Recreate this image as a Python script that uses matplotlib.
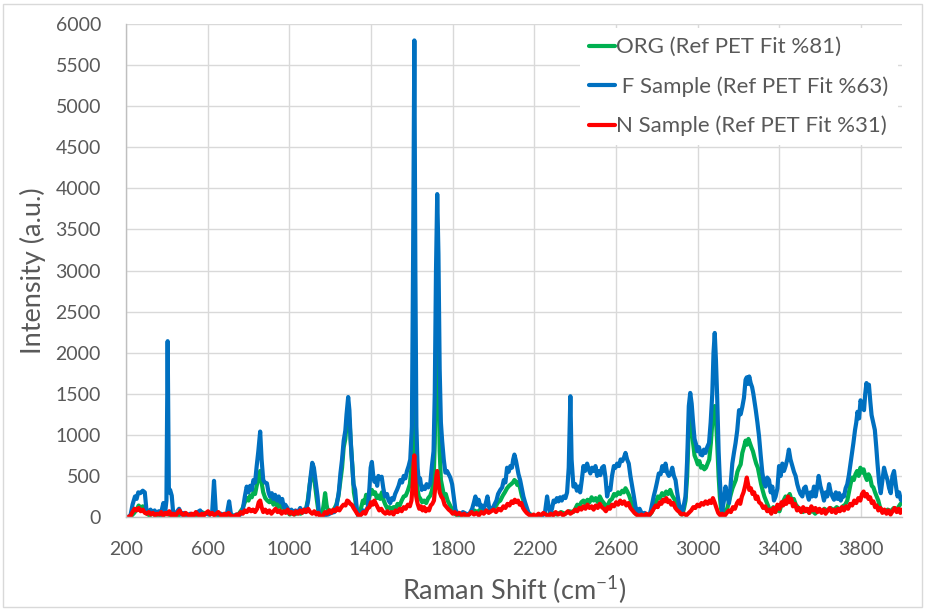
import matplotlib
matplotlib.use("Agg")
import matplotlib.pyplot as plt
from matplotlib.patches import Rectangle

plt.rcParams['font.family'] = ['Lato', 'DejaVu Sans']
plt.rcParams['mathtext.fontset'] = 'custom'
plt.rcParams['mathtext.rm'] = 'Lato'
plt.rcParams['mathtext.default'] = 'regular'

# Raman spectra: (shift cm-1, intensity a.u.)
org_points = [
    (210, 0), (225, 10), (240, 50), (252, 90), (262, 140), (272, 110), (282, 130), (292, 80), (302, 40),
    (315, 20), (330, 40), (345, 20), (360, 30), (375, 10), (390, 30), (404, 60), (415, 20), (430, 30),
    (450, 10), (470, 40), (490, 20), (510, 10), (530, 30), (550, 20), (570, 60), (590, 40), (610, 30),
    (630, 60), (650, 20), (670, 30), (690, 10), (710, 40), (730, 10), (750, 30), (770, 100), (782, 180),
    (791, 230), (800, 200), (808, 260), (816, 240), (824, 300), (832, 280), (840, 380), (848, 470),
    (857, 560), (864, 420), (872, 300), (882, 230), (892, 200), (902, 180), (912, 220), (922, 150),
    (932, 190), (942, 120), (952, 160), (962, 110), (972, 130), (982, 80), (992, 60), (1002, 30),
    (1012, 50), (1025, 30), (1040, 50), (1055, 40), (1068, 60), (1080, 80), (1090, 200), (1100, 400),
    (1110, 560), (1118, 520), (1126, 380), (1135, 200), (1143, 60), (1152, 0), (1160, 30), (1168, 150),
    (1175, 290), (1182, 150), (1190, 50), (1200, 80), (1210, 60), (1220, 100), (1230, 150), (1240, 250),
    (1250, 450), (1258, 600), (1266, 850), (1274, 950), (1281, 1150), (1288, 1300), (1295, 1150),
    (1302, 850), (1309, 600), (1316, 300), (1323, 200), (1332, 50), (1340, 0), (1350, 100), (1360, 200),
    (1368, 170), (1376, 270), (1384, 180), (1392, 250), (1404, 330), (1412, 280), (1420, 300),
    (1428, 230), (1436, 260), (1444, 220), (1453, 300), (1462, 200), (1470, 150), (1480, 100),
    (1490, 120), (1500, 90), (1510, 120), (1520, 100), (1530, 160), (1540, 140), (1550, 200),
    (1560, 250), (1570, 260), (1580, 320), (1590, 400), (1598, 600), (1604, 1000), (1609, 1600),
    (1612, 1800), (1616, 1300), (1620, 700), (1626, 350), (1634, 250), (1642, 220), (1650, 180),
    (1660, 200), (1670, 170), (1680, 230), (1690, 260), (1698, 320), (1706, 420), (1712, 900),
    (1718, 2000), (1724, 2800), (1730, 1900), (1736, 800), (1742, 450), (1750, 350), (1758, 250),
    (1766, 280), (1775, 200), (1785, 150), (1795, 100), (1805, 60), (1815, 30), (1830, 10), (1850, 30),
    (1870, 20), (1890, 50), (1905, 80), (1920, 60), (1935, 90), (1950, 50), (1965, 80), (1980, 60),
    (1995, 100), (2010, 130), (2022, 180), (2033, 200), (2045, 260), (2055, 300), (2066, 350),
    (2076, 380), (2086, 400), (2095, 420), (2102, 450), (2110, 430), (2116, 390), (2122, 420),
    (2130, 350), (2138, 260), (2146, 200), (2155, 120), (2165, 70), (2175, 40), (2190, 20), (2210, 0),
    (2230, 20), (2250, 40), (2270, 20), (2290, 50), (2310, 30), (2330, 60), (2350, 40), (2370, 70),
    (2390, 60), (2400, 100), (2410, 150), (2420, 130), (2430, 180), (2440, 200), (2450, 160),
    (2460, 210), (2470, 180), (2480, 240), (2490, 200), (2500, 230), (2510, 180), (2520, 250),
    (2530, 200), (2540, 170), (2550, 120), (2560, 150), (2570, 200), (2580, 220), (2590, 280),
    (2600, 260), (2610, 300), (2620, 280), (2630, 320), (2638, 300), (2646, 350), (2655, 310),
    (2664, 260), (2672, 200), (2680, 120), (2690, 60), (2700, 30), (2720, 10), (2740, 30), (2760, 10),
    (2775, 60), (2785, 120), (2795, 180), (2805, 250), (2815, 230), (2825, 290), (2835, 260),
    (2845, 310), (2855, 280), (2865, 330), (2875, 260), (2885, 220), (2895, 150), (2905, 90),
    (2915, 40), (2924, 30), (2932, 100), (2940, 200), (2948, 500), (2956, 1100), (2963, 1280),
    (2970, 1100), (2977, 900), (2984, 750), (2992, 700), (3000, 640), (3008, 680), (3016, 600),
    (3024, 620), (3032, 580), (3040, 600), (3048, 650), (3056, 700), (3064, 900), (3071, 1150),
    (3077, 1300), (3083, 1350), (3089, 1200), (3095, 900), (3102, 500), (3108, 250), (3114, 100),
    (3122, 40), (3130, 80), (3138, 60), (3146, 120), (3154, 200), (3162, 280), (3170, 350), (3178, 400),
    (3186, 450), (3194, 550), (3202, 600), (3210, 640), (3218, 780), (3226, 850), (3234, 930),
    (3241, 880), (3248, 950), (3255, 900), (3262, 850), (3270, 800), (3278, 720), (3286, 650),
    (3294, 600), (3302, 500), (3310, 400), (3318, 320), (3326, 250), (3334, 200), (3342, 150),
    (3350, 100), (3360, 80), (3370, 120), (3380, 60), (3390, 100), (3400, 70), (3410, 150), (3420, 200),
    (3430, 250), (3440, 230), (3450, 280), (3460, 200), (3470, 220), (3480, 150), (3490, 120),
    (3500, 80), (3515, 60), (3530, 100), (3545, 50), (3560, 80), (3575, 40), (3590, 90), (3605, 60),
    (3620, 100), (3635, 70), (3650, 110), (3665, 80), (3680, 120), (3695, 90), (3710, 130), (3722, 150),
    (3732, 200), (3740, 300), (3748, 400), (3756, 480), (3764, 450), (3772, 520), (3780, 560),
    (3788, 500), (3796, 600), (3804, 540), (3812, 580), (3820, 500), (3828, 450), (3836, 520),
    (3844, 480), (3852, 380), (3860, 360), (3868, 300), (3876, 250), (3884, 200), (3892, 120),
    (3900, 90), (3915, 60), (3930, 90), (3945, 70), (3960, 110), (3975, 90), (3990, 150), (4000, 180),
]

f_points = [
    (210, 0), (222, 20), (232, 150), (244, 250), (252, 220), (260, 300), (270, 290), (282, 320),
    (292, 300), (300, 90), (310, 60), (320, 90), (330, 50), (340, 80), (350, 40), (360, 70), (370, 30),
    (383, 170), (392, 60), (398, 200), (404, 2140), (410, 300), (416, 330), (424, 260), (432, 20),
    (445, 50), (460, 100), (472, 30), (485, 50), (500, 20), (515, 40), (530, 20), (545, 50), (563, 80),
    (575, 30), (595, 40), (610, 30), (622, 60), (631, 440), (640, 60), (650, 30), (665, 40), (680, 20),
    (695, 50), (705, 190), (714, 30), (722, 0), (740, 30), (755, 20), (770, 60), (782, 250), (791, 370),
    (800, 300), (808, 380), (816, 330), (824, 450), (832, 420), (840, 620), (848, 800), (857, 1040),
    (864, 700), (872, 450), (880, 420), (890, 410), (898, 300), (905, 250), (914, 290), (922, 220),
    (930, 270), (940, 200), (948, 250), (956, 180), (965, 220), (972, 120), (980, 150), (990, 110),
    (1000, 60), (1010, 90), (1020, 40), (1030, 80), (1040, 50), (1053, 110), (1062, 60), (1072, 90),
    (1080, 60), (1092, 200), (1102, 450), (1112, 660), (1120, 600), (1130, 400), (1138, 250),
    (1145, 50), (1152, 0), (1170, 20), (1190, 30), (1205, 50), (1220, 60), (1232, 150), (1242, 300),
    (1250, 530), (1258, 700), (1266, 930), (1274, 1050), (1280, 1250), (1288, 1460), (1294, 1300),
    (1300, 950), (1306, 700), (1314, 400), (1322, 330), (1330, 100), (1340, 0), (1352, 40), (1362, 80),
    (1372, 60), (1384, 120), (1392, 350), (1398, 600), (1404, 670), (1410, 520), (1416, 430),
    (1422, 470), (1430, 380), (1436, 500), (1444, 470), (1452, 490), (1460, 350), (1468, 250),
    (1478, 280), (1486, 200), (1494, 170), (1502, 230), (1510, 210), (1518, 280), (1527, 330),
    (1535, 380), (1543, 450), (1552, 420), (1560, 500), (1568, 470), (1576, 560), (1584, 620),
    (1592, 700), (1600, 1100), (1606, 3200), (1612, 5800), (1617, 3000), (1622, 1100), (1628, 600),
    (1634, 420), (1640, 470), (1648, 330), (1656, 370), (1664, 340), (1672, 400), (1680, 360),
    (1690, 410), (1698, 620), (1706, 800), (1712, 1500), (1718, 3000), (1724, 3930), (1730, 3200),
    (1736, 1800), (1742, 1150), (1748, 930), (1756, 700), (1764, 540), (1772, 560), (1780, 520),
    (1788, 480), (1797, 400), (1805, 250), (1813, 90), (1822, 50), (1835, 30), (1850, 60), (1865, 40),
    (1880, 30), (1895, 100), (1904, 180), (1911, 250), (1919, 150), (1927, 210), (1936, 120),
    (1944, 140), (1951, 100), (1960, 150), (1970, 250), (1978, 120), (1986, 80), (1996, 110),
    (2006, 160), (2014, 200), (2022, 280), (2033, 330), (2042, 360), (2050, 450), (2058, 420),
    (2066, 600), (2074, 550), (2082, 620), (2090, 600), (2096, 700), (2102, 760), (2110, 680),
    (2116, 600), (2122, 520), (2130, 450), (2138, 350), (2146, 250), (2154, 180), (2162, 120),
    (2171, 50), (2180, 20), (2195, 0), (2210, 10), (2225, 0), (2240, 20), (2252, 60), (2262, 250),
    (2270, 120), (2278, 50), (2286, 100), (2294, 200), (2302, 180), (2310, 230), (2318, 190),
    (2326, 240), (2334, 200), (2342, 250), (2352, 230), (2360, 300), (2368, 600), (2376, 1470),
    (2382, 700), (2391, 370), (2400, 400), (2408, 320), (2416, 370), (2424, 300), (2432, 450),
    (2440, 620), (2448, 560), (2458, 650), (2466, 580), (2474, 530), (2482, 600), (2490, 560),
    (2499, 620), (2507, 500), (2515, 560), (2523, 510), (2531, 600), (2540, 620), (2548, 480),
    (2556, 250), (2564, 350), (2572, 330), (2580, 500), (2589, 620), (2597, 600), (2605, 650),
    (2614, 620), (2622, 700), (2630, 680), (2638, 720), (2646, 780), (2654, 700), (2662, 650),
    (2670, 500), (2679, 370), (2687, 250), (2695, 125), (2705, 60), (2715, 100), (2728, 30),
    (2740, 50), (2750, 20), (2760, 0), (2770, 80), (2778, 180), (2784, 250), (2792, 330), (2800, 420),
    (2809, 530), (2818, 520), (2826, 620), (2834, 560), (2842, 650), (2850, 540), (2858, 500),
    (2866, 520), (2875, 600), (2883, 500), (2891, 450), (2899, 300), (2907, 170), (2915, 90),
    (2924, 50), (2932, 150), (2940, 250), (2948, 700), (2956, 1350), (2963, 1510), (2970, 1380),
    (2977, 1150), (2984, 950), (2992, 880), (2998, 800), (3006, 850), (3014, 760), (3022, 750),
    (3030, 820), (3038, 780), (3046, 850), (3055, 900), (3063, 1150), (3071, 1500), (3077, 2000),
    (3083, 2240), (3089, 1900), (3095, 1450), (3102, 800), (3108, 450), (3114, 200), (3120, 80),
    (3128, 200), (3136, 370), (3144, 250), (3153, 170), (3161, 400), (3169, 650), (3177, 780),
    (3185, 900), (3193, 1050), (3202, 1300), (3210, 1250), (3218, 1340), (3226, 1450), (3234, 1670),
    (3240, 1700), (3246, 1620), (3252, 1710), (3259, 1630), (3266, 1580), (3272, 1500), (3278, 1400),
    (3284, 1300), (3292, 1150), (3300, 980), (3308, 750), (3316, 540), (3324, 420), (3332, 370),
    (3340, 480), (3349, 450), (3357, 300), (3365, 370), (3373, 200), (3381, 250), (3390, 350),
    (3398, 620), (3406, 500), (3414, 650), (3422, 560), (3430, 620), (3438, 700), (3446, 820),
    (3454, 700), (3463, 620), (3471, 550), (3479, 500), (3487, 400), (3495, 330), (3503, 280),
    (3512, 250), (3520, 350), (3528, 370), (3536, 280), (3544, 210), (3552, 300), (3560, 250),
    (3569, 370), (3577, 250), (3584, 350), (3592, 500), (3600, 380), (3610, 290), (3618, 200),
    (3626, 300), (3634, 250), (3643, 400), (3651, 300), (3659, 250), (3667, 210), (3676, 300),
    (3684, 220), (3692, 290), (3700, 200), (3708, 260), (3716, 250), (3724, 350), (3732, 400),
    (3740, 510), (3748, 650), (3755, 780), (3762, 900), (3770, 1060), (3776, 1150), (3782, 1280),
    (3790, 1200), (3797, 1420), (3805, 1350), (3814, 1300), (3820, 1500), (3826, 1630), (3832, 1560),
    (3838, 1610), (3845, 1400), (3851, 1240), (3859, 1150), (3867, 1060), (3874, 850), (3880, 650),
    (3888, 420), (3896, 290), (3904, 450), (3912, 600), (3920, 520), (3929, 450), (3937, 350),
    (3945, 290), (3953, 500), (3961, 560), (3969, 400), (3978, 250), (3986, 300), (3994, 210),
    (4000, 200),
]

n_points = [
    (210, 0), (222, 10), (232, 60), (242, 100), (252, 80), (262, 110), (272, 70), (282, 90), (292, 50),
    (302, 40), (312, 60), (322, 30), (332, 50), (342, 20), (352, 40), (362, 30), (372, 60), (382, 20),
    (392, 50), (402, 30), (412, 70), (422, 20), (432, 40), (442, 10), (452, 50), (462, 80), (472, 40),
    (482, 20), (492, 50), (502, 30), (512, 10), (522, 40), (532, 20), (542, 60), (552, 30), (562, 10),
    (572, 40), (582, 20), (592, 50), (602, 70), (612, 30), (622, 50), (632, 20), (642, 40), (652, 60),
    (662, 30), (672, 10), (682, 40), (692, 20), (702, 50), (712, 20), (722, 0), (732, 10), (742, 30),
    (752, 20), (762, 60), (772, 40), (782, 80), (792, 60), (802, 100), (812, 70), (822, 90), (832, 60),
    (842, 100), (850, 180), (857, 200), (864, 120), (872, 60), (882, 90), (892, 50), (902, 80),
    (912, 40), (922, 70), (932, 100), (942, 60), (952, 80), (962, 40), (972, 70), (982, 50), (992, 90),
    (1002, 40), (1012, 60), (1022, 30), (1032, 70), (1042, 40), (1052, 80), (1062, 50), (1072, 90),
    (1082, 60), (1092, 100), (1102, 60), (1112, 40), (1122, 70), (1132, 30), (1142, 50), (1152, 0),
    (1165, 20), (1175, 60), (1185, 40), (1195, 80), (1205, 50), (1215, 90), (1225, 70), (1235, 110),
    (1245, 80), (1255, 120), (1265, 150), (1275, 140), (1283, 200), (1290, 190), (1298, 160),
    (1306, 150), (1314, 110), (1322, 80), (1332, 40), (1342, 10), (1352, 30), (1362, 60), (1372, 40),
    (1382, 100), (1392, 120), (1400, 180), (1408, 150), (1416, 200), (1424, 160), (1432, 120),
    (1440, 80), (1450, 100), (1460, 60), (1470, 40), (1480, 70), (1490, 40), (1500, 60), (1510, 30),
    (1520, 80), (1530, 60), (1540, 100), (1550, 70), (1560, 120), (1570, 100), (1580, 150), (1590, 130),
    (1598, 200), (1604, 400), (1609, 680), (1612, 750), (1616, 500), (1621, 250), (1628, 160),
    (1636, 100), (1644, 130), (1652, 80), (1660, 120), (1668, 70), (1676, 100), (1684, 80), (1692, 140),
    (1700, 160), (1708, 200), (1714, 350), (1720, 500), (1724, 560), (1730, 420), (1736, 300),
    (1744, 250), (1752, 220), (1760, 150), (1770, 120), (1780, 90), (1790, 70), (1800, 40), (1810, 60),
    (1820, 30), (1832, 50), (1844, 20), (1856, 40), (1868, 10), (1880, 30), (1892, 60), (1904, 30),
    (1916, 50), (1928, 20), (1940, 60), (1952, 40), (1964, 80), (1976, 50), (1988, 70), (2000, 90),
    (2012, 60), (2024, 100), (2036, 80), (2048, 130), (2058, 110), (2068, 160), (2078, 140),
    (2088, 190), (2096, 170), (2104, 210), (2112, 180), (2120, 200), (2128, 150), (2136, 170),
    (2144, 110), (2152, 80), (2162, 50), (2172, 30), (2184, 10), (2196, 30), (2208, 10), (2220, 40),
    (2232, 20), (2244, 50), (2256, 30), (2268, 10), (2280, 40), (2292, 20), (2304, 60), (2316, 30),
    (2328, 50), (2340, 20), (2352, 40), (2364, 70), (2376, 40), (2388, 60), (2400, 90), (2410, 70),
    (2420, 110), (2430, 90), (2440, 130), (2450, 100), (2460, 150), (2470, 110), (2480, 130),
    (2490, 90), (2500, 140), (2510, 110), (2520, 160), (2530, 120), (2540, 100), (2550, 70),
    (2560, 120), (2570, 100), (2580, 150), (2590, 130), (2600, 180), (2610, 150), (2620, 200),
    (2630, 160), (2640, 190), (2650, 140), (2660, 170), (2670, 110), (2680, 80), (2690, 50), (2700, 30),
    (2712, 10), (2724, 30), (2736, 10), (2748, 40), (2760, 20), (2772, 50), (2784, 100), (2794, 140),
    (2804, 120), (2814, 180), (2822, 160), (2830, 210), (2838, 190), (2846, 230), (2854, 180),
    (2862, 200), (2870, 150), (2880, 170), (2890, 110), (2900, 80), (2910, 60), (2920, 30), (2932, 40),
    (2944, 20), (2956, 50), (2968, 80), (2978, 120), (2988, 110), (2998, 150), (3008, 130), (3018, 170),
    (3028, 150), (3038, 190), (3048, 160), (3058, 200), (3066, 170), (3074, 230), (3082, 180),
    (3090, 120), (3100, 50), (3110, 20), (3120, 40), (3130, 10), (3142, 50), (3152, 80), (3162, 60),
    (3172, 120), (3182, 100), (3192, 170), (3200, 200), (3208, 160), (3216, 250), (3224, 300),
    (3232, 380), (3240, 480), (3246, 400), (3252, 330), (3260, 350), (3268, 280), (3276, 300),
    (3284, 220), (3292, 250), (3300, 180), (3310, 160), (3320, 110), (3330, 130), (3340, 70),
    (3350, 90), (3360, 40), (3370, 110), (3380, 60), (3390, 150), (3400, 100), (3410, 180), (3418, 140),
    (3426, 200), (3434, 160), (3442, 250), (3450, 180), (3458, 220), (3466, 130), (3476, 160),
    (3486, 80), (3496, 110), (3506, 60), (3516, 120), (3526, 70), (3536, 100), (3546, 50), (3556, 130),
    (3566, 80), (3576, 110), (3586, 60), (3596, 100), (3606, 50), (3616, 90), (3626, 40), (3636, 80),
    (3646, 110), (3656, 60), (3666, 90), (3676, 50), (3686, 100), (3696, 70), (3706, 120), (3716, 80),
    (3726, 130), (3736, 100), (3746, 160), (3756, 140), (3766, 200), (3776, 170), (3786, 230),
    (3796, 200), (3804, 280), (3812, 310), (3820, 250), (3828, 280), (3836, 220), (3844, 240),
    (3852, 170), (3860, 190), (3868, 120), (3876, 140), (3884, 80), (3894, 110), (3904, 50), (3914, 90),
    (3924, 40), (3934, 80), (3944, 30), (3954, 70), (3964, 110), (3974, 60), (3984, 100), (3992, 50),
    (4000, 90),
]

series_labels = ['ORG (Ref PET Fit %81)', ' F Sample (Ref PET Fit %63)', 'N Sample (Ref PET Fit %31)']
series_colors = ['#00B050', '#0070C0', '#FF0000']

x_ticks = [200, 600, 1000, 1400, 1800, 2200, 2600, 3000, 3400, 3800]
y_ticks = [0, 500, 1000, 1500, 2000, 2500, 3000, 3500, 4000, 4500, 5000, 5500, 6000]

text_gray = '#595959'
grid_gray = '#d9d9d9'

fig = plt.figure(figsize=(9.25, 6.11), dpi=100)
ax = fig.add_axes([126 / 925, 1 - 517 / 611, 776 / 925, 493 / 611])

for pts, lab, col in zip([org_points, f_points, n_points], series_labels, series_colors):
    xs, ys = zip(*pts)
    ax.plot(xs, ys, color=col, lw=3.0, label=lab, solid_joinstyle='round', solid_capstyle='round')

ax.set_xlim(200, 4000)
ax.set_ylim(0, 6000)
ax.set_xticks(x_ticks)
ax.set_yticks(y_ticks)
ax.tick_params(length=0, labelsize=14, colors=text_gray)
ax.tick_params(axis='y', pad=18)
ax.tick_params(axis='x', pad=17)
ax.grid(True, color=grid_gray, lw=1.0)
ax.set_axisbelow(True)
for side in ['top', 'right']:
    ax.spines[side].set_visible(False)
for side in ['left', 'bottom']:
    ax.spines[side].set_color('#bfbfbf')
    ax.spines[side].set_linewidth(1.0)

ax.set_xlabel('Raman Shift (cm$^{-1}$)', fontsize=19.5, color=text_gray)
ax.set_ylabel('Intensity (a.u.)', fontsize=19.5, color=text_gray)
ax.xaxis.set_label_coords(0.5, (517 - 574) / 493)
ax.yaxis.set_label_coords((46 - 126) / 776, 0.5)

leg = ax.legend(loc='upper right', fontsize=16, frameon=True, handlelength=1.2,
                handletextpad=0.05, borderaxespad=0.2, labelspacing=0.85, fancybox=False)
leg.get_frame().set_facecolor('white')
leg.get_frame().set_edgecolor('none')
leg.get_frame().set_alpha(1)
for t in leg.get_texts():
    t.set_color(text_gray)

# chart area border
fig.patches.append(Rectangle((3 / 925, 4 / 611), 919 / 925, 603 / 611, transform=fig.transFigure,
                             fill=False, edgecolor=grid_gray, lw=1.0))

fig.savefig('out.png', dpi=100)
